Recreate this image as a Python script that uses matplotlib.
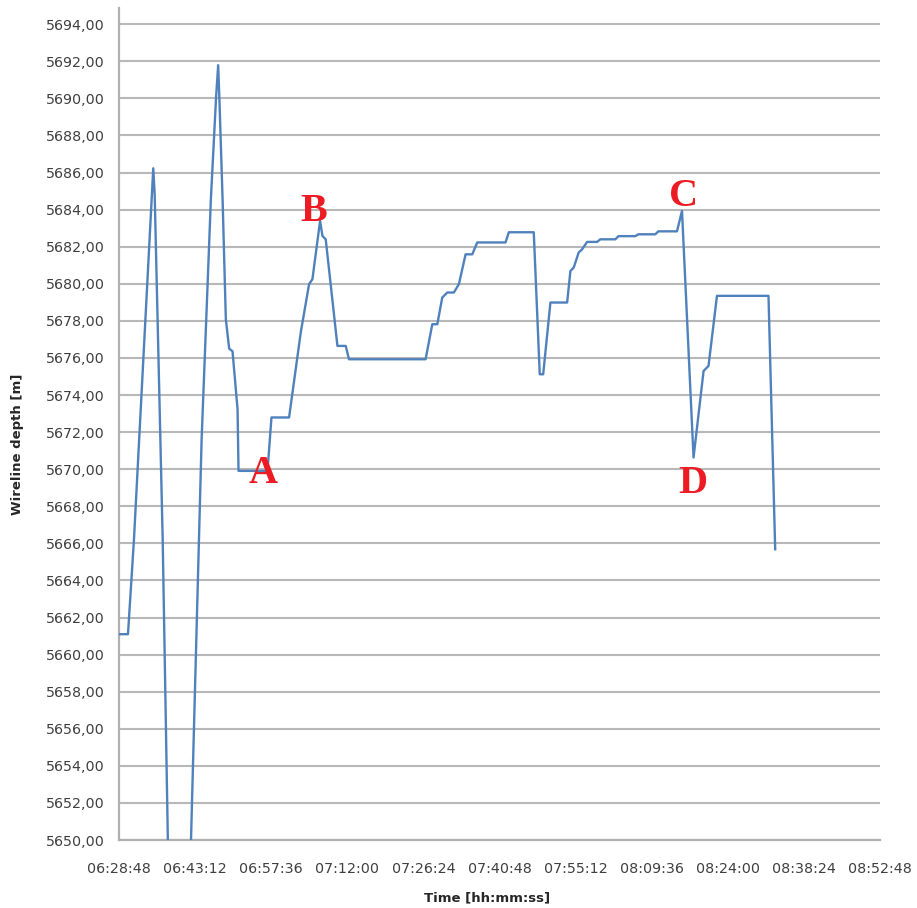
import matplotlib
matplotlib.use("Agg")
import matplotlib.pyplot as plt
from matplotlib.ticker import MultipleLocator, FuncFormatter

# ---- data ----
times = [
    "06:28:48", "06:30:30", "06:31:38", "06:35:17", "06:35:33", "06:37:04",
    "06:39:46", "06:44:26", "06:46:11", "06:47:11", "06:47:34", "06:47:48",
    "06:48:24", "06:49:01", "06:49:39", "06:50:17", "06:51:14", "06:51:25",
    "06:56:54", "06:57:39", "07:00:59", "07:03:12", "07:04:46", "07:05:24",
    "07:06:51", "07:07:18", "07:07:55", "07:10:08", "07:11:42", "07:12:19",
    "07:26:49", "07:28:05", "07:29:02", "07:29:58", "07:30:55", "07:32:10",
    "07:33:07", "07:34:23", "07:35:39", "07:36:35", "07:41:56", "07:42:34",
    "07:47:17", "07:48:25", "07:49:04", "07:50:26", "07:53:36", "07:54:13",
    "07:54:51", "07:55:47", "07:56:26", "07:57:23", "07:59:16", "07:59:53",
    "08:02:44", "08:03:18", "08:06:30", "08:07:04", "08:10:17", "08:10:51",
    "08:14:23", "08:15:20", "08:17:31",
    "08:19:25", "08:20:21", "08:21:57", "08:31:42", "08:32:58",
]
depth = [
    5661.10, 5661.10, 5666.22, 5686.23, 5684.83, 5666.22,
    5621.40, 5671.62, 5684.56, 5690.13, 5691.79, 5689.95,
    5684.56, 5678.09, 5676.50, 5676.36, 5673.23, 5669.91,
    5669.91, 5672.79, 5672.79, 5677.39, 5679.98, 5680.25,
    5683.39, 5682.58, 5682.40, 5676.65, 5676.65, 5675.93,
    5675.93, 5677.82, 5677.82, 5679.26, 5679.53, 5679.53,
    5679.98, 5681.59, 5681.59, 5682.23, 5682.23, 5682.78,
    5682.78, 5675.12, 5675.12, 5678.99, 5678.99, 5680.69,
    5680.88, 5681.69, 5681.86, 5682.26, 5682.26, 5682.40,
    5682.40, 5682.57, 5682.57, 5682.67, 5682.67, 5682.83,
    5682.83, 5683.93, 5670.63,
    5675.30, 5675.57, 5679.35, 5679.35, 5665.68,
]
point_labels = ["A", "B", "C", "D"]
label_times = ["06:56:07", "07:05:42", "08:15:40", "08:17:25"]
label_depths = [5669.24, 5683.37, 5684.20, 5668.74]

x_start, x_end, x_step = "06:28:48", "08:52:48", "00:14:24"
y_min, y_max, y_step = 5650, 5694, 2


def to_sec(s):
    h, m, sec = (int(v) for v in s.split(":"))
    return h * 3600 + m * 60 + sec


def fmt_time(v, pos=None):
    v = int(round(v))
    return f"{v // 3600:02d}:{(v % 3600) // 60:02d}:{v % 60:02d}"


t = [to_sec(s) for s in times]

fig = plt.figure(figsize=(9.17, 9.08), dpi=100)
ax = fig.add_axes([119 / 917, 68 / 908, 761 / 917, 832 / 908])

ax.plot(t, depth, color="#4f81bd", linewidth=1.7, zorder=3)

ax.set_xlim(to_sec(x_start), to_sec(x_end))
ax.set_ylim(y_min, y_min + 832 / 18.54)
ax.xaxis.set_major_locator(MultipleLocator(to_sec(x_step)))
ax.xaxis.set_major_formatter(FuncFormatter(fmt_time))
ax.set_yticks(list(range(y_min, y_max + 1, y_step)))
ax.yaxis.set_major_formatter(FuncFormatter(lambda v, p: f"{v:.2f}".replace(".", ",")))

ax.grid(axis="y", color="#b8b8b8", linewidth=1.5, zorder=1)
ax.set_axisbelow(True)
for side in ("top", "right"):
    ax.spines[side].set_visible(False)
for side in ("left", "bottom"):
    ax.spines[side].set_color("#b0b0b0")
    ax.spines[side].set_linewidth(1.6)

ax.tick_params(axis="both", length=0, labelsize=10.3, labelcolor="#404040")
ax.tick_params(axis="x", pad=16)
ax.tick_params(axis="y", pad=10)

for lab, lt, ld in zip(point_labels, label_times, label_depths):
    ax.text(to_sec(lt), ld, lab, color="#ed1c24", fontsize=29, fontweight="bold",
            family=["Liberation Serif", "DejaVu Serif"], ha="center", va="baseline",
            zorder=4)

fig.text(18 / 917, 1 - 444 / 908, "Wireline depth [m]", rotation=90, ha="center",
         va="center", fontsize=9.5, fontweight="bold", color="#262626")
fig.text(487 / 917, 1 - 898 / 908, "Time [hh:mm:ss]", ha="center", va="center",
         fontsize=9.5, fontweight="bold", color="#262626")

fig.savefig("out.png", dpi=100, facecolor="white")
